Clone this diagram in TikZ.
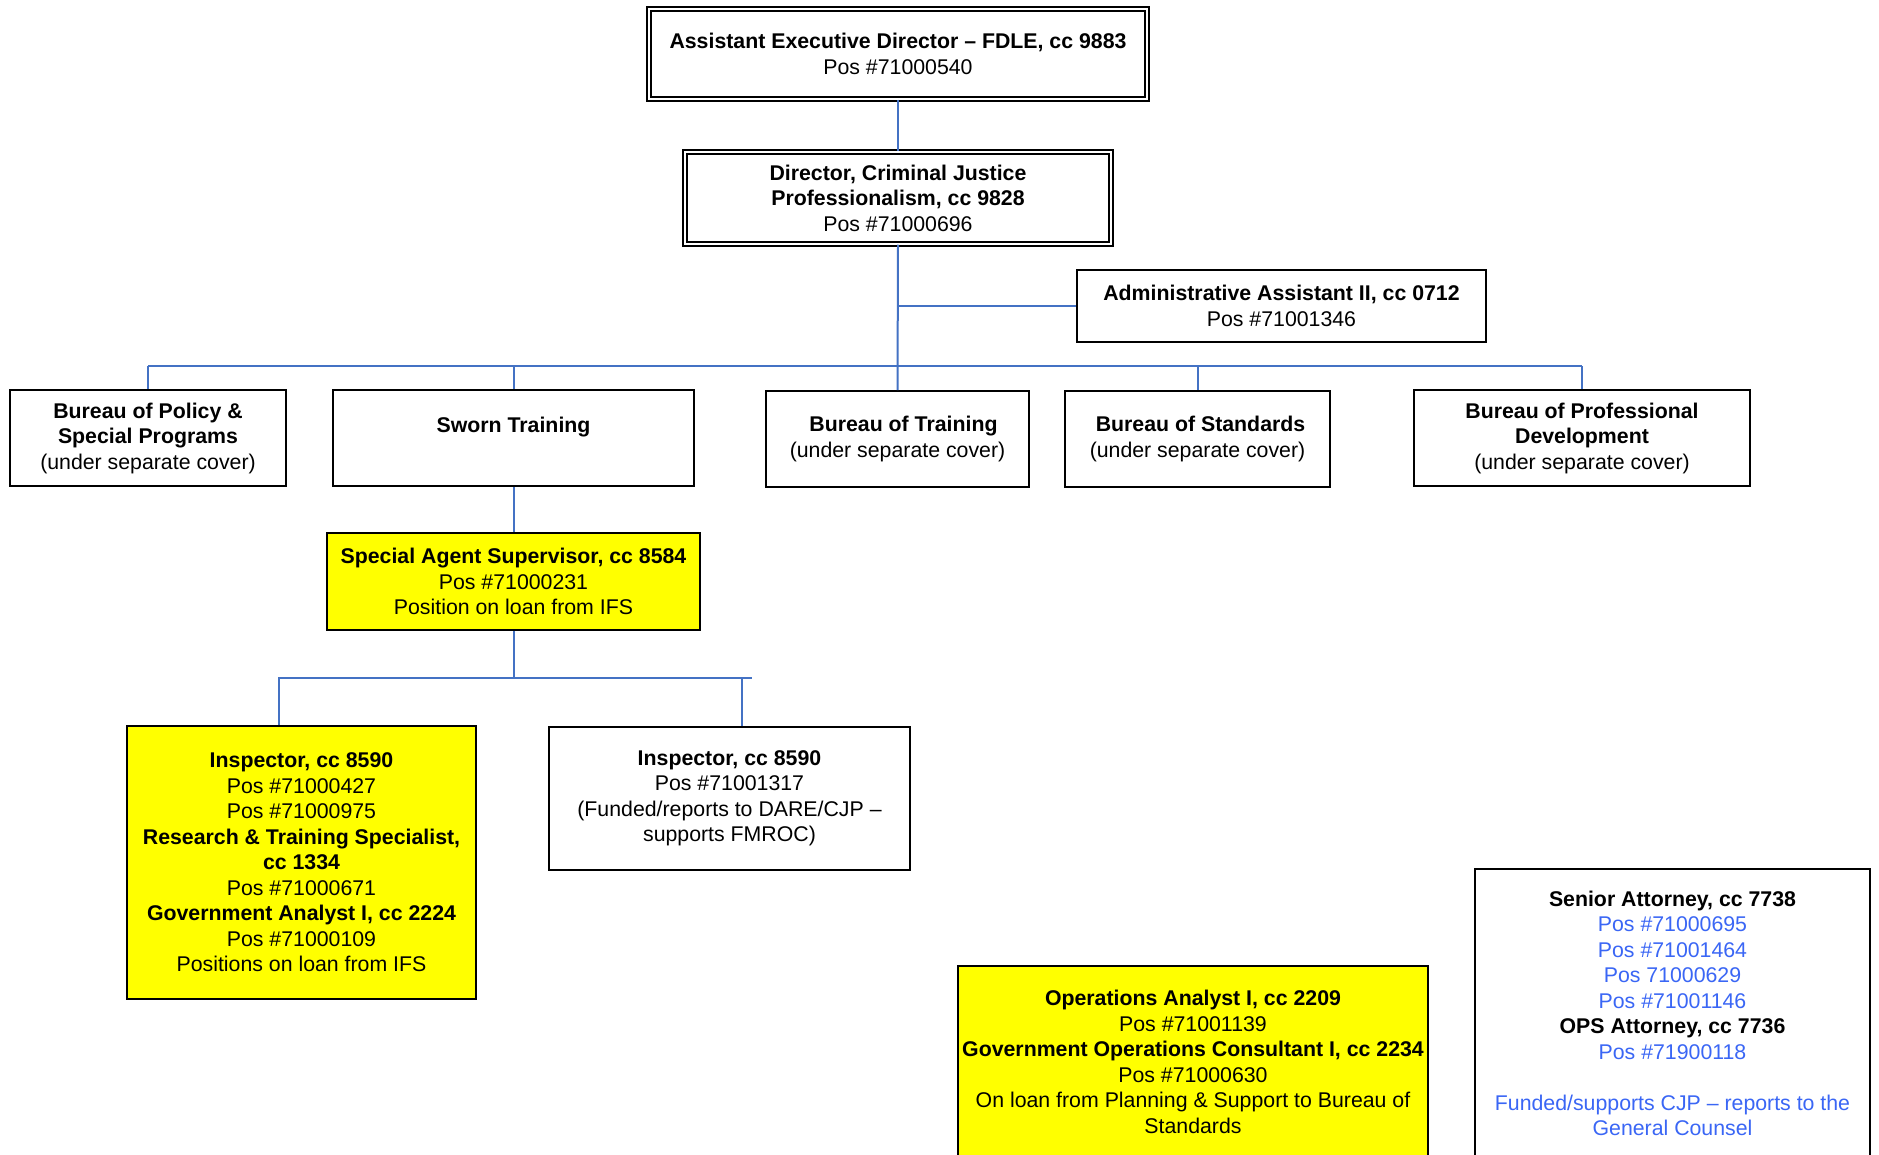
\documentclass[tikz,border=0pt]{standalone}
\usepackage{fontspec}
\setmainfont{Liberation Sans}
\usetikzlibrary{positioning, calc}
\definecolor{linkblue}{HTML}{4472C4}
\definecolor{posblue}{HTML}{3A66F5}
\definecolor{loanyellow}{HTML}{FFFF00}

\begin{document}
\begin{tikzpicture}[
    x=0.5pt, y=-0.5pt,
    posbox/.style={rectangle, draw, line width=0.9pt, align=center, inner sep=0pt,
      font=\fontsize{10.65}{12.75}\selectfont},
    headbox/.style={posbox, double, line width=0.75pt, double distance=1.25pt},
    loanbox/.style={posbox, fill=loanyellow},
    link/.style={draw=linkblue, line width=1pt},
    bh/.style={font=\bfseries}
  ]
  \useasboundingbox (0,0) rectangle (1879,1155);
  \fill[white] (0,0) rectangle (1879,1155);
  \begin{scope}
  \clip (0,0) rectangle (1879,1155);

  % top of the chart
  \node[headbox, minimum width=249pt, minimum height=45pt] (aed) at (898,54)
    {\textbf{Assistant Executive Director -- FDLE, cc 9883}\\Pos \#71000540};
  \node[headbox, minimum width=213pt, minimum height=46pt] (dir) at (898,198)
    {\textbf{Director, Criminal Justice}\\\textbf{Professionalism, cc 9828}\\Pos \#71000696};
  \node[posbox, minimum width=204.5pt, minimum height=36pt] (adm) at (1281.5,306)
    {\textbf{Administrative Assistant II, cc 0712}\\Pos \#71001346};

  % bureau row
  \node[posbox, minimum width=138pt, minimum height=48pt] (pol) at (148,438)
    {\textbf{Bureau of Policy \&}\\\textbf{Special Programs}\\(under separate cover)};
  \node[posbox, minimum width=180.5pt, minimum height=48pt] (swn) at (513.5,438)
    {\textbf{Sworn Training}\\\mbox{}};
  \node[posbox, minimum width=131.5pt, minimum height=48pt] (trn) at (897.5,439)
    {\hspace*{6pt}\textbf{Bureau of Training}\\(under separate cover)};
  \node[posbox, minimum width=132.5pt, minimum height=48pt] (std) at (1197.5,439)
    {\hspace*{3pt}\textbf{Bureau of Standards}\\(under separate cover)};
  \node[posbox, minimum width=168pt, minimum height=48pt] (pro) at (1582,438)
    {\textbf{Bureau of Professional}\\\textbf{Development}\\(under separate cover)};

  % sworn training staff
  \node[loanbox, minimum width=186.5pt, minimum height=48.5pt] (sas) at (513.5,581.5)
    {\textbf{Special Agent Supervisor, cc 8584}\\Pos \#71000231\\Position on loan from IFS};
  \node[loanbox, minimum width=174.5pt, minimum height=136.5pt] (ins1) at (301.5,862.5)
    {\textbf{Inspector, cc 8590}\\Pos \#71000427\\Pos \#71000975\\
     \textbf{Research \& Training Specialist,}\\\textbf{cc 1334}\\Pos \#71000671\\
     \textbf{Government Analyst I, cc 2224}\\Pos \#71000109\\Positions on loan from IFS};
  \node[posbox, minimum width=180.5pt, minimum height=71.5pt] (ins2) at (729.5,798.5)
    {\textbf{Inspector, cc 8590}\\Pos \#71001317\\(Funded/reports to DARE/CJP --\\supports FMROC)};

  % boxes cut by the page edge
  \node[loanbox, minimum width=235pt, minimum height=96pt] (ops) at (1193,1062)
    {\textbf{Operations Analyst I, cc 2209}\\Pos \#71001139\\
     \textbf{Government Operations Consultant I, cc 2234}\\Pos \#71000630\\
     On loan from Planning \& Support to Bureau of\\Standards};
  \node[posbox, minimum width=197.5pt, minimum height=144.5pt] (att) at (1672.5,1013.5)
    {\textbf{Senior Attorney, cc 7738}\\\textcolor{posblue}{Pos \#71000695}\\
     \textcolor{posblue}{Pos \#71001464}\\\textcolor{posblue}{Pos 71000629}\\
     \textcolor{posblue}{Pos \#71001146}\\\textbf{OPS Attorney, cc 7736}\\
     \textcolor{posblue}{Pos \#71900118}\\\mbox{}\\
     \textcolor{posblue}{Funded/supports CJP -- reports to the}\\
     \textcolor{posblue}{General Counsel}};

  \coordinate (bus) at (0,366);
  \coordinate (sub) at (279,678);
  \coordinate (subend) at (752,678);
  \coordinate (drop) at (742,678);

  \draw[link] (aed) -- (dir);
  \draw[link] (dir.south) -- (trn.north);
  \draw[link] (dir.south |- adm.west) -- (adm.west);
  \draw[link] (pol.north |- bus) -- (pro.north |- bus);
  \foreach \b in {pol, swn, std, pro}
    \draw[link] (\b.north |- bus) -- (\b.north);

  \draw[link] (swn) -- (sas);
  \draw[link] (sas.south) -- (sas.south |- sub);
  \draw[link] (sub |- ins1.north) -- (sub) -- (subend);
  \draw[link] (drop) -- (drop |- ins2.north);
  \end{scope}
\end{tikzpicture}
\end{document}
